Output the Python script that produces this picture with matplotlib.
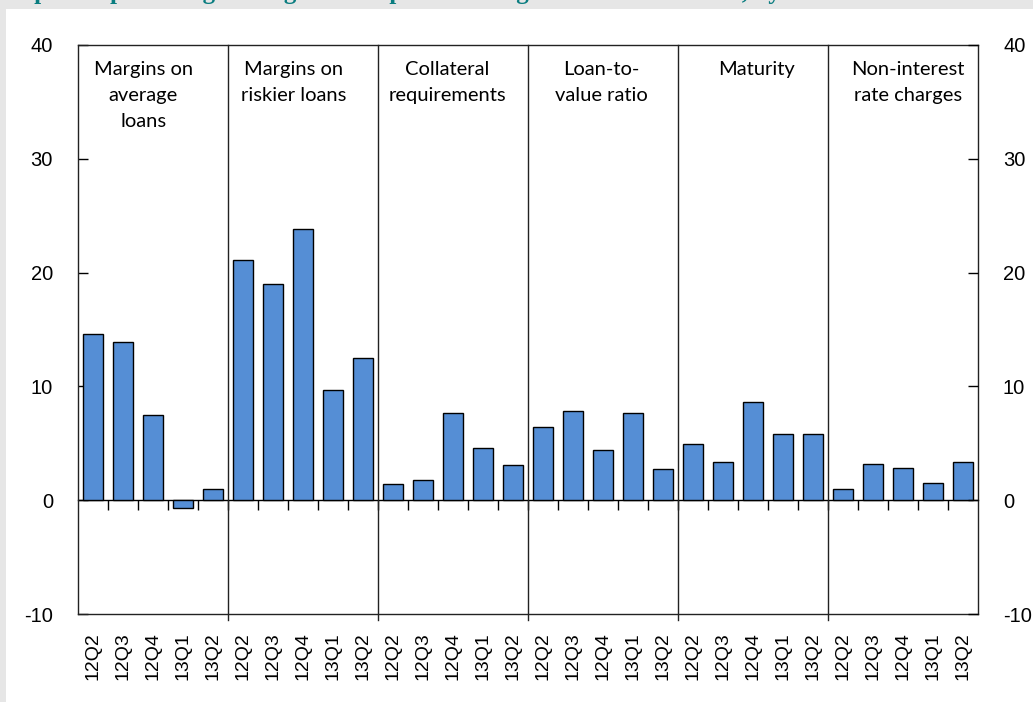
import numpy as np
import matplotlib
matplotlib.use('Agg')
import matplotlib.pyplot as plt
from matplotlib.patches import Rectangle

plt.rcParams['font.family'] = 'Liberation Sans'
plt.rcParams['axes.unicode_minus'] = False

# data
quarters = ['12Q2', '12Q3', '12Q4', '13Q1', '13Q2']
groups = ['Margins on\naverage\nloans', 'Margins on\nriskier loans', 'Collateral\nrequirements',
          'Loan-to-\nvalue ratio', 'Maturity', 'Non-interest\nrate charges']
margins_avg = [14.6, 13.9, 7.5, -0.7, 1.0]
margins_risky = [21.1, 19.0, 23.8, 9.7, 12.5]
collateral = [1.4, 1.8, 7.7, 4.6, 3.1]
ltv = [6.4, 7.8, 4.4, 7.7, 2.7]
maturity = [4.9, 3.4, 8.6, 5.8, 5.8]
non_interest = [1.0, 3.2, 2.8, 1.5, 3.4]
series = [margins_avg, margins_risky, collateral, ltv, maturity, non_interest]

# group labels are not exactly centred in the reference (in category widths)
label_shift = [-0.33, -0.3, -0.2, -0.07, 0.1, 0.17]

values = np.concatenate(series)
labels = quarters * len(groups)
n = len(values)
per = len(quarters)
x = np.arange(n)

fig = plt.figure(figsize=(10.33, 7.02), dpi=100)
fig.patch.set_facecolor('#e6e6e6')
fig.patches.append(Rectangle((6 / 1033, 0), 1, 1 - 9 / 702, transform=fig.transFigure,
                             facecolor='white', edgecolor='none', zorder=-1))
# title strip, cut off at the top edge so only descenders show
fig.text(0.005, 1 + 0.5 / 702, 'Expected percentage change in non-price lending conditions to SMEs, by item',
         color='#0a7d80', fontsize=18, fontweight='bold', family='Liberation Serif',
         va='baseline', ha='left')

ax = fig.add_axes([78 / 1033, 88 / 702, 900 / 1033, 569 / 702])
ax.bar(x, values, width=0.65, color='#558ed5', edgecolor='black', linewidth=1, zorder=3)
ax.set_xlim(-0.5, n - 0.5)
ax.set_ylim(-10, 40)
ax.set_yticks(np.arange(-10, 41, 10))
ax.tick_params(axis='y', direction='in', length=7, pad=18, labelsize=14.5, width=1)
ax.set_xticks(x)
ax.set_xticklabels(labels, rotation=90, fontsize=14)
ax.tick_params(axis='x', length=0, pad=13)
for s in ax.spines.values():
    s.set_linewidth(1)
    s.set_color('#222222')

axr = ax.twinx()
axr.set_ylim(-10, 40)
axr.set_yticks(np.arange(-10, 41, 10))
axr.tick_params(axis='y', direction='in', length=7, pad=18, labelsize=14.5, width=1)
for s in axr.spines.values():
    s.set_visible(False)

# zero line with category ticks
zero = ax.secondary_xaxis(10 / 50)
zero.set_xticks(np.arange(0.5, n - 1, 1))
zero.tick_params(axis='x', direction='out', length=7, labelbottom=False, width=1)
zero.spines['bottom'].set_linewidth(1)

# group separators and labels
for g in range(1, len(groups)):
    ax.axvline(g * per - 0.5, ymin=-0.01, ymax=1, color='#222222', lw=1, clip_on=False, zorder=4)
for g, name in enumerate(groups):
    ax.text(g * per + (per - 1) / 2 + label_shift[g], 38.6, name, ha='center', va='top',
            fontsize=14.5, family='Lato', linespacing=1.65)

fig.savefig('out.png', dpi=100, facecolor=fig.get_facecolor())
